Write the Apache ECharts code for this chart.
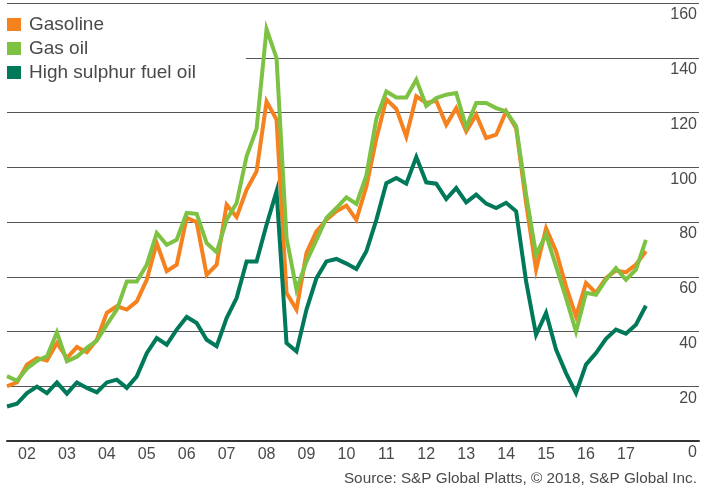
<!DOCTYPE html>
<html>
<head>
<meta charset="utf-8">
<script src="https://cdn.jsdelivr.net/npm/echarts@6/dist/echarts.min.js"></script>
<style>
  html, body { margin: 0; padding: 0; background: #fff; }
  #chart { width: 702px; height: 488px; }
</style>
</head>
<body>
<div id="chart"></div>
<script>
// quarterly price series, $/barrel
const quarters = [
  "2002 Q1", "2002 Q2", "2002 Q3", "2002 Q4", "2003 Q1", "2003 Q2", "2003 Q3", "2003 Q4",
  "2004 Q1", "2004 Q2", "2004 Q3", "2004 Q4", "2005 Q1", "2005 Q2", "2005 Q3", "2005 Q4",
  "2006 Q1", "2006 Q2", "2006 Q3", "2006 Q4", "2007 Q1", "2007 Q2", "2007 Q3", "2007 Q4",
  "2008 Q1", "2008 Q2", "2008 Q3", "2008 Q4", "2009 Q1", "2009 Q2", "2009 Q3", "2009 Q4",
  "2010 Q1", "2010 Q2", "2010 Q3", "2010 Q4", "2011 Q1", "2011 Q2", "2011 Q3", "2011 Q4",
  "2012 Q1", "2012 Q2", "2012 Q3", "2012 Q4", "2013 Q1", "2013 Q2", "2013 Q3", "2013 Q4",
  "2014 Q1", "2014 Q2", "2014 Q3", "2014 Q4", "2015 Q1", "2015 Q2", "2015 Q3", "2015 Q4",
  "2016 Q1", "2016 Q2", "2016 Q3", "2016 Q4", "2017 Q1", "2017 Q2", "2017 Q3", "2017 Q4",
  "2018 Q1"
];
const gasoline = [
  20, 21.4, 27.9, 30.3, 29.4, 35.8, 30.3, 34.3,
  32.4, 37, 46.8, 49.2, 48, 51, 58.9, 72.3,
  62, 64.4, 81.5, 79.9, 60.7, 64.4, 86.3, 81.8,
  91.8, 98.5, 124, 117.4, 54.1, 48, 68.7, 76.6,
  80.8, 83.9, 86, 80.8, 93, 110.5, 124.8, 121.3,
  111.2, 125.9, 123.5, 124.3, 115.5, 121.6, 113.1, 119.2,
  110.7, 111.9, 120.4, 114.3, 86.9, 62.6, 77.7, 69.3,
  56.5, 45.5, 57.7, 54.1, 59.5, 62.3, 61.6, 64.4,
  69.3
];
const gasOil = [
  23.7, 22, 26.5, 29.3, 30.9, 39.7, 29.1, 30.8,
  34, 36.7, 42.5, 48, 58.3, 58.3, 64.4, 76,
  71.7, 73.5, 83.3, 83, 72.3, 69, 80.8, 86.9,
  104, 114, 150.5, 139.9, 74.2, 55.3, 65.6, 73.5,
  81.5, 85.1, 89, 86.6, 97, 117.7, 127.7, 125.5,
  125.5, 132, 122.4, 125.3, 126.5, 127.1, 114.6, 123.5,
  123.5, 121.6, 120.4, 115, 90, 68.1, 75.4, 63.8,
  52.2, 40, 54.1, 53.4, 58.9, 63.2, 58.9, 62.6,
  73.5
];
const hsfo = [
  12.6, 13.6, 17.5, 19.9, 17.5, 21.4, 17.3, 21.4,
  19.4, 17.8, 21.4, 22.4, 19.4, 23.6, 32.1, 37.6,
  35.2, 40.7, 45.3, 43.1, 37, 34.6, 44.9, 52.2,
  65.6, 65.6, 79, 91.2, 35.8, 32.7, 48, 59.5,
  65.6, 66.5, 64.8, 62.8, 69.3, 80.8, 94.2, 96.1,
  94, 103.7, 94.5, 94, 88.4, 92.4, 87.2, 90,
  86.7, 85.1, 87, 83.9, 58.3, 38.8, 46.8, 33.4,
  24.8, 17.5, 27.9, 32.1, 37.3, 40.7, 39.2, 42.5,
  49.4
];
const yearLabels = ["02", "03", "04", "05", "06", "07", "08", "09",
  "10", "11", "12", "13", "14", "15", "16", "17"];

const FONT = "Liberation Sans, Arial, sans-serif";
const TEXT = "#4a4a4a";

function toTime(q) {
  const [y, n] = q.split(" Q");
  return +y + (+n - 1) / 4;
}
function pairs(values) {
  return values.map((v, i) => [toTime(quarters[i]), v]);
}

const chart = echarts.init(document.getElementById("chart"));
chart.setOption({
  animation: false,
  backgroundColor: "#fff",
  title: {
    text: "Source: S&P Global Platts, © 2018, S&P Global Inc.",
    right: 5,
    top: 471,
    padding: 0,
    textStyle: { fontFamily: FONT, fontSize: 15.3, fontWeight: "normal", color: TEXT }
  },
  legend: {
    left: 2,
    top: 10,
    orient: "vertical",
    padding: [5, 50, 5, 5],
    backgroundColor: "#fff",
    itemWidth: 14,
    itemHeight: 13,
    itemGap: 5,
    icon: "rect",
    textStyle: { fontFamily: FONT, fontSize: 19, color: TEXT, padding: [0, 0, 0, 3] },
    data: ["Gasoline", "Gas oil", "High sulphur fuel oil"]
  },
  grid: { left: 7, right: 3, top: 3, bottom: 47 },
  xAxis: {
    type: "value",
    min: 2002,
    max: 2019.33,
    interval: 0.5,
    axisLine: { show: true, onZero: false, lineStyle: { color: "#333", width: 2 } },
    axisTick: { show: false },
    splitLine: { show: false },
    axisLabel: {
      margin: 6,
      fontFamily: FONT,
      fontSize: 16,
      color: TEXT,
      showMinLabel: true,
      showMaxLabel: true,
      formatter: function (v) {
        const k = v - 2002.5;
        const r = Math.round(k);
        if (Math.abs(k - r) < 1e-6 && r >= 0 && r < yearLabels.length) return yearLabels[r];
        return "";
      }
    }
  },
  yAxis: {
    type: "value",
    position: "right",
    min: 0,
    max: 160,
    interval: 20,
    axisLine: { show: false },
    axisTick: { show: false },
    splitLine: { lineStyle: { color: "#555", width: 1 } },
    axisLabel: {
      inside: true,
      margin: 2,
      fontFamily: FONT,
      fontSize: 16,
      color: TEXT,
      verticalAlign: "top",
      padding: [4, 0, 0, 0]
    }
  },
  series: [
    {
      name: "Gasoline",
      type: "line",
      data: pairs(gasoline),
      showSymbol: false,
      color: "#f5811f",
      lineStyle: { width: 4, join: "miter" }
    },
    {
      name: "Gas oil",
      type: "line",
      data: pairs(gasOil),
      showSymbol: false,
      color: "#7dc242",
      lineStyle: { width: 4, join: "miter" }
    },
    {
      name: "High sulphur fuel oil",
      type: "line",
      data: pairs(hsfo),
      showSymbol: false,
      color: "#00785a",
      lineStyle: { width: 4, join: "miter" }
    }
  ]
});
</script>
</body>
</html>
